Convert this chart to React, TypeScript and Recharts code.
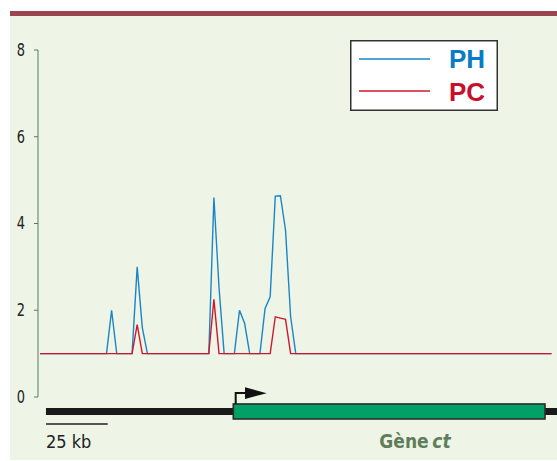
import React from 'react';
import { LineChart, Line, XAxis, YAxis, Legend, ReferenceArea } from 'recharts';

// genomic bins (index 0..100 along the locus)
const phValues = [
  1, 1, 1, 1, 1, 1, 1, 1, 1, 1,
  1, 1, 1, 1, 2.0, 1, 1, 1, 1, 3.0,
  1.6, 1, 1, 1, 1, 1, 1, 1, 1, 1,
  1, 1, 1, 1, 4.6, 2.52, 1, 1, 1, 2.0,
  1.7, 1, 1, 1, 2.04, 2.31, 4.63, 4.64, 3.85, 1.85,
  1, 1, 1, 1, 1, 1, 1, 1, 1, 1,
  1, 1, 1, 1, 1, 1, 1, 1, 1, 1,
  1, 1, 1, 1, 1, 1, 1, 1, 1, 1,
  1, 1, 1, 1, 1, 1, 1, 1, 1, 1,
  1, 1, 1, 1, 1, 1, 1, 1, 1, 1,
  1,
];
const pcValues = [
  1, 1, 1, 1, 1, 1, 1, 1, 1, 1,
  1, 1, 1, 1, 1, 1, 1, 1, 1, 1.67,
  1, 1, 1, 1, 1, 1, 1, 1, 1, 1,
  1, 1, 1, 1, 2.25, 1, 1, 1, 1, 1,
  1, 1, 1, 1, 1, 1, 1.85, 1.82, 1.79, 1,
  1, 1, 1, 1, 1, 1, 1, 1, 1, 1,
  1, 1, 1, 1, 1, 1, 1, 1, 1, 1,
  1, 1, 1, 1, 1, 1, 1, 1, 1, 1,
  1, 1, 1, 1, 1, 1, 1, 1, 1, 1,
  1, 1, 1, 1, 1, 1, 1, 1, 1, 1,
  1,
];
const seriesNames = ['PH', 'PC'];
const yTicks = [0, 2, 4, 6, 8];

// locus annotation (bin coordinates)
const locusStart = 1.17;
const locusEnd = 101.2;
const geneStart = 37.79;
const geneEnd = 98.73;
const scaleBarStart = 1.17;
const scaleBarEnd = 13.24;
const scaleBarLabel = '25 kb';
const geneName = 'Gène';
const geneSymbol = 'ct';

const data = phValues.map((v, i) => ({ i, PH: v, PC: pcValues[i] }));

const NARROW = "'Liberation Sans Narrow', 'DejaVu Sans Condensed', 'Roboto Condensed', sans-serif";
const BLUE = '#1a86c8';
const RED = '#d0182c';
const TEXT_COLORS: Record<string, string> = { PH: '#0b7cc4', PC: '#c8102e' };

const GeneShape = (props: any) => {
  const { x, y, width, height } = props;
  return (
    <g>
      <rect x={x} y={y} width={width} height={height} fill="#00a066" stroke="#2b2b2b" strokeWidth={1.6} />
      <path d={`M${x + 2.4},${y} L${x + 2.4},${y - 11} L${x + 13},${y - 11}`} fill="none" stroke="#111" strokeWidth={2} />
      <polygon points={`${x + 11.7},${y - 16.7} ${x + 33.4},${y - 10.8} ${x + 11.7},${y - 5}`} fill="#111" />
      <text x={x + 146} y={y + 44} fill="#5e7d5a" fontFamily={NARROW} fontWeight="bold" fontSize={19}>
        {geneName}
      </text>
      <text x={x + 199} y={y + 44} fill="#5e7d5a" fontFamily={NARROW} fontWeight="bold" fontStyle="italic" fontSize={19}>
        {geneSymbol}
      </text>
    </g>
  );
};

const ScaleBarShape = (props: any) => {
  const { x, y, width, height } = props;
  const cy = y + height / 2;
  return (
    <g>
      <line x1={x} y1={cy} x2={x + width} y2={cy} stroke="#222" strokeWidth={1.6} />
      <text x={x} y={cy + 24} fill="#222" fontFamily={NARROW} fontSize={18}>
        {scaleBarLabel}
      </text>
    </g>
  );
};

const LegendBox = (props: any) => {
  const payload = (props.payload || []).slice().sort(
    (a: any, b: any) => seriesNames.indexOf(a.value) - seriesNames.indexOf(b.value)
  );
  return (
    <svg width={148} height={71} style={{ display: 'block' }}>
      <rect x={0.75} y={0.75} width={146.5} height={69.5} fill="#fff" stroke="#333" strokeWidth={1.5} />
      {payload.map((p: any, k: number) => (
        <g key={p.value}>
          <line x1={9} x2={80} y1={19 + k * 32} y2={19 + k * 32} stroke={p.color} strokeWidth={1.3} />
          <text
            x={99}
            y={28 + k * 33}
            fill={TEXT_COLORS[p.value]}
            fontFamily="'Liberation Sans', Arial, sans-serif"
            fontWeight="bold"
            fontSize={26}
          >
            {p.value}
          </text>
        </g>
      ))}
    </svg>
  );
};

const YTick = (props: any) => {
  const { x, y, payload } = props;
  return (
    <text x={x} y={y + 6} textAnchor="end" fill="#222" fontFamily={NARROW} fontSize={18} transform={`translate(${x},0) scale(0.8,1) translate(${-x},0)`}>
      {payload.value}
    </text>
  );
};

export default function App() {
  return (
    <div style={{ position: 'absolute', left: 0, top: 0, width: 557, height: 461, background: '#fff', overflow: 'hidden' }}>
      <div style={{ position: 'absolute', left: 9.5, top: 10.7, width: 547.5, height: 5.3, background: '#9b4551' }} />
      <div style={{ position: 'absolute', left: 9.5, top: 16, width: 547.5, height: 444, background: '#eef4e6' }} />
      <div style={{ position: 'absolute', left: 0, top: 0 }}>
        <LineChart width={557} height={461} data={data} margin={{ top: 50, right: 5.5, bottom: 64, left: 0 }}>
          <XAxis dataKey="i" type="number" domain={[0, 100]} hide padding={{ left: 2, right: 0 }} />
          <YAxis
            domain={[0, 8]}
            ticks={yTicks}
            width={38}
            axisLine={{ stroke: '#5a7a5a', strokeWidth: 1 }}
            tickLine={{ stroke: '#5a7a5a', strokeWidth: 1 }}
            tickSize={4}
            tickMargin={9}
            tick={<YTick />}
          />
          <ReferenceArea x1={locusStart} x2={locusEnd} y1={-0.415} y2={-0.254} ifOverflow="visible" fill="#1a1a1a" fillOpacity={1} stroke="none" />
          <ReferenceArea x1={geneStart} x2={geneEnd} y1={-0.507} y2={-0.161} ifOverflow="visible" shape={GeneShape} />
          <ReferenceArea x1={scaleBarStart} x2={scaleBarEnd} y1={-0.64} y2={-0.605} ifOverflow="visible" shape={ScaleBarShape} />
          <Legend
            layout="horizontal"
            verticalAlign="middle"
            align="center"
            content={LegendBox}
            wrapperStyle={{ position: 'absolute', left: 350, top: 40, width: 148, height: 71 }}
          />
          <Line type="linear" dataKey="PH" stroke={BLUE} strokeWidth={1.4} dot={false} activeDot={false} isAnimationActive={false} />
          <Line type="linear" dataKey="PC" stroke={RED} strokeWidth={1.4} dot={false} activeDot={false} isAnimationActive={false} />
        </LineChart>
      </div>
    </div>
  );
}
